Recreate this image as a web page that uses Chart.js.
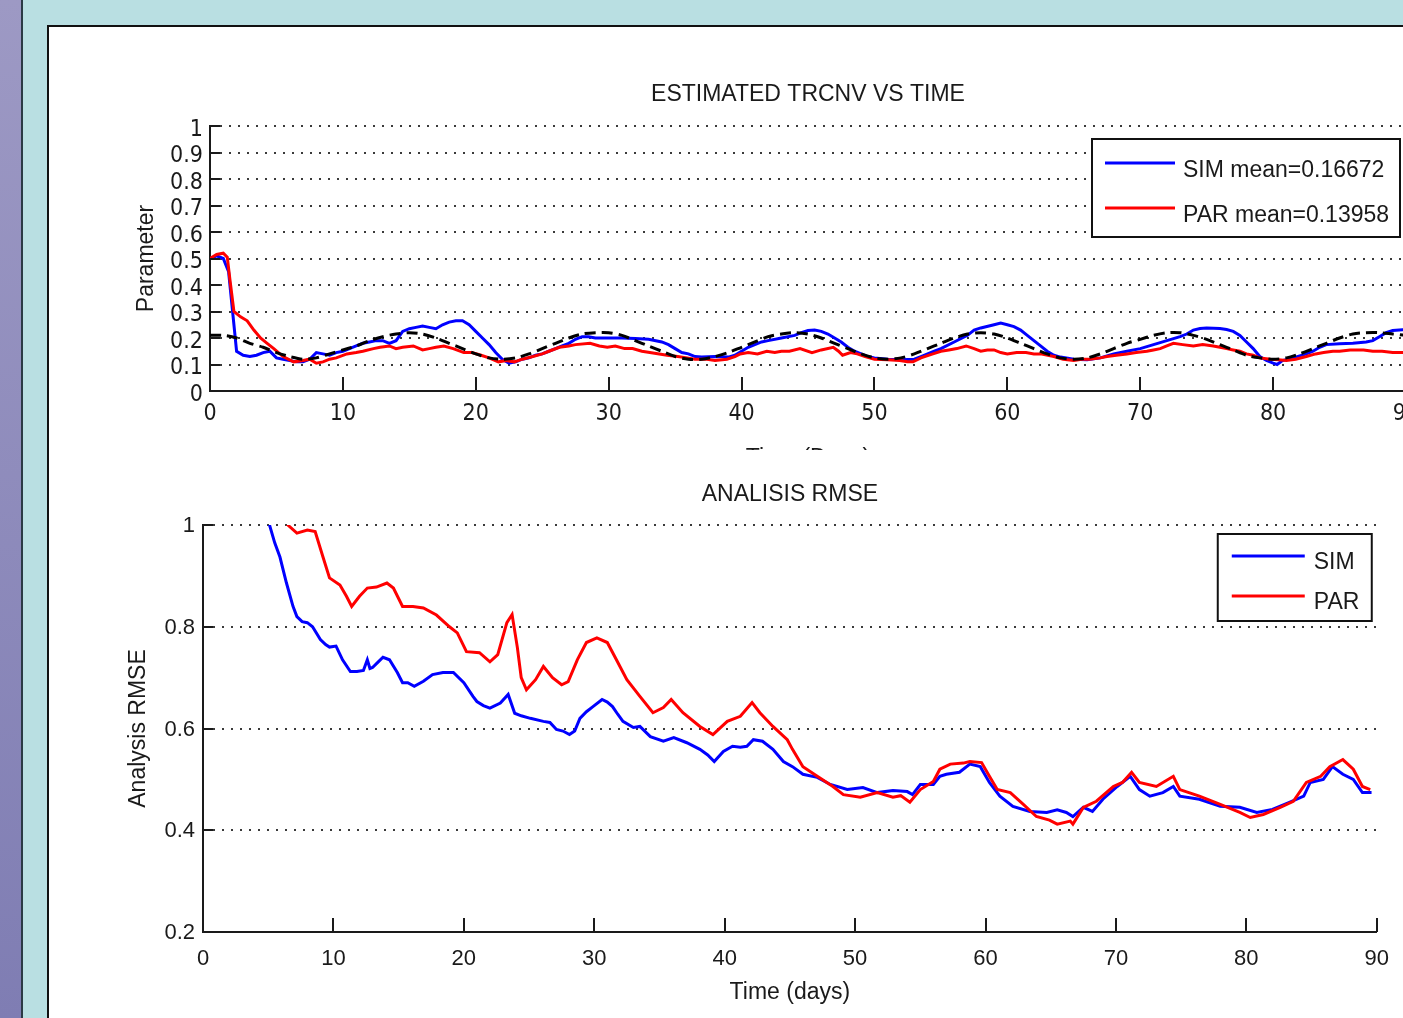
<!DOCTYPE html>
<html><head><meta charset="utf-8">
<script src="https://cdn.jsdelivr.net/npm/chart.js@4.4.1/dist/chart.umd.min.js"></script>
<style>
html,body{margin:0;padding:0;width:1403px;height:1018px;overflow:hidden;background:#b9dfe2;}
#strip{position:absolute;left:0;top:0;width:21px;height:1018px;background:linear-gradient(#9d99c4,#7f7db3);}
#stripline{position:absolute;left:21px;top:0;width:2px;height:1018px;background:#2b3a45;}
#panel{position:absolute;left:47px;top:25px;width:1400px;height:1100px;background:#fff;border-left:2px solid #111;border-top:2px solid #111;}
#topwrap{position:absolute;left:49px;top:27px;width:1354px;height:423px;overflow:hidden;}
#botwrap{position:absolute;left:49px;top:450px;width:1354px;height:568px;overflow:hidden;}
canvas{position:absolute;left:0;top:0;}
</style></head>
<body>
<div id="strip"></div><div id="stripline"></div><div id="panel"></div>
<div id="topwrap"><canvas id="c1" width="1400" height="470"></canvas></div>
<div id="botwrap"><canvas id="c2" width="1354" height="568"></canvas></div>
<script>
// ---------- DATA ----------
const xTicks = [0,10,20,30,40,50,60,70,80,90];
const xTickLabels = ['0','10','20','30','40','50','60','70','80','90'];
const topYTicks = [0,0.1,0.2,0.3,0.4,0.5,0.6,0.7,0.8,0.9,1];
const topYTickLabels = ['0','0.1','0.2','0.3','0.4','0.5','0.6','0.7','0.8','0.9','1'];
const botYTicks = [0.2,0.4,0.6,0.8,1];
const botYTickLabels = ['0.2','0.4','0.6','0.8','1'];

const topTitle = 'ESTIMATED TRCNV VS TIME';
const botTitle = 'ANALISIS RMSE';
const topYTitle = 'Parameter';
const botYTitle = 'Analysis RMSE';
const topXTitle = 'Time (Days)';
const botXTitle = 'Time (days)';
const topLabels = ['SIM mean=0.16672','PAR mean=0.13958','TRUE'];
const botLabels = ['SIM','PAR'];

// top: SIM estimate
const topSimT = [0,0.5,1,1.4,1.7,2,2.5,3,3.5,4,4.5,5,5.5,6,6.5,7,7.5,8,8.5,9,9.5,10,10.5,11,11.5,12,12.5,13,13.5,14,14.5,15,15.5,16,16.5,17,17.5,18,18.5,19,19.5,20,20.5,21,21.5,22,22.5,23,23.5,24,24.5,25,25.5,26,26.5,27,27.5,28,28.5,29,30,31,32,33,34,34.5,35,35.5,36,36.5,37,38,39,39.5,40,40.5,41,41.5,42,43,44,44.5,45,45.5,46,46.5,47,47.5,48,48.5,49,49.5,50,51,52,53,53.5,54,54.5,55,56,57,57.5,58,59,59.5,60,60.5,61,61.5,62,62.5,63,63.5,64,65,66,67,68,69,70,71,72,73,73.5,74,74.5,75,76,76.5,77,77.5,78,78.5,79,79.5,80,80.3,80.7,81.5,82.5,83,83.5,84,85,86,87,87.5,88,88.5,89,90];
const topSimV = [0.50,0.51,0.50,0.45,0.30,0.15,0.135,0.13,0.135,0.145,0.15,0.125,0.12,0.115,0.11,0.11,0.12,0.145,0.14,0.135,0.145,0.15,0.16,0.17,0.18,0.185,0.19,0.19,0.18,0.19,0.225,0.235,0.24,0.245,0.24,0.235,0.25,0.26,0.265,0.265,0.25,0.225,0.20,0.175,0.145,0.12,0.105,0.11,0.12,0.125,0.135,0.14,0.15,0.16,0.17,0.18,0.195,0.205,0.205,0.20,0.20,0.20,0.198,0.195,0.185,0.175,0.16,0.145,0.14,0.13,0.128,0.13,0.128,0.135,0.15,0.165,0.175,0.185,0.19,0.20,0.21,0.22,0.228,0.23,0.225,0.215,0.20,0.185,0.165,0.15,0.14,0.13,0.125,0.12,0.118,0.12,0.13,0.14,0.15,0.16,0.185,0.21,0.23,0.238,0.25,0.256,0.25,0.243,0.23,0.21,0.19,0.17,0.15,0.135,0.128,0.12,0.118,0.125,0.14,0.15,0.16,0.175,0.19,0.205,0.215,0.23,0.236,0.238,0.236,0.232,0.225,0.21,0.185,0.16,0.13,0.115,0.105,0.10,0.115,0.125,0.14,0.15,0.165,0.175,0.178,0.18,0.185,0.19,0.205,0.22,0.228,0.232];

// top: PAR estimate
const topParT = [0,0.5,1,1.3,1.5,1.8,2.3,2.8,3.3,3.8,4.3,4.8,5.5,6.3,7,7.5,8,8.5,9,9.5,10.3,11,11.5,12.3,12.8,13.5,14,14.5,15.3,16,16.5,17,17.6,18.3,19.1,19.7,20.4,21,21.7,22.3,22.9,23.5,24.3,25,25.5,26.3,27,27.5,28.6,29.3,29.9,30.5,31.2,31.8,32.5,33.1,34.4,35.2,35.9,36.5,37.4,38,38.9,39.5,39.9,40.5,41.2,41.9,42.5,43,43.6,44.4,45.3,46,46.9,47.3,47.6,48.2,48.7,49.3,50,51,51.9,52.5,52.9,53.5,54.4,55,55.6,56.2,56.9,57.5,58,58.5,59,59.5,60,60.7,61.4,62,62.5,63.5,64.2,65,65.6,66.2,67,67.5,68.2,69,69.7,70.5,71,71.5,72,72.5,73.2,74,74.7,75.5,76,76.5,77,77.5,78,78.5,79,79.8,80.4,81,81.7,82.5,83.2,83.8,84.5,85,85.8,86.8,87.5,88.2,89,90];
const topParV = [0.50,0.515,0.52,0.505,0.42,0.30,0.28,0.265,0.23,0.20,0.18,0.16,0.13,0.11,0.115,0.12,0.105,0.11,0.12,0.125,0.14,0.145,0.15,0.16,0.165,0.17,0.16,0.165,0.17,0.155,0.16,0.165,0.17,0.16,0.145,0.145,0.135,0.125,0.11,0.115,0.11,0.12,0.13,0.14,0.15,0.165,0.17,0.175,0.18,0.17,0.165,0.17,0.16,0.16,0.15,0.145,0.135,0.13,0.125,0.12,0.12,0.115,0.12,0.13,0.14,0.145,0.14,0.15,0.145,0.15,0.15,0.16,0.145,0.155,0.165,0.15,0.135,0.145,0.14,0.13,0.12,0.118,0.115,0.11,0.11,0.125,0.14,0.15,0.155,0.16,0.17,0.16,0.15,0.155,0.155,0.145,0.14,0.145,0.145,0.14,0.14,0.13,0.12,0.115,0.12,0.12,0.125,0.13,0.135,0.14,0.145,0.15,0.155,0.16,0.17,0.18,0.175,0.17,0.175,0.17,0.165,0.16,0.155,0.15,0.14,0.135,0.125,0.12,0.118,0.115,0.12,0.13,0.14,0.145,0.15,0.15,0.155,0.155,0.15,0.15,0.145,0.145];

// top: true parameter (dashed black), one value per day
const topTrueT = [0,1,2,3,4,5,6,7,8,9,10,11,12,13,14,15,16,17,18,19,20,21,22,23,24,25,26,27,28,29,30,31,32,33,34,35,36,37,38,39,40,41,42,43,44,45,46,47,48,49,50,51,52,53,54,55,56,57,58,59,60,61,62,63,64,65,66,67,68,69,70,71,72,73,74,75,76,77,78,79,80,81,82,83,84,85,86,87,88,89,90];
const topTrueV = [0.21,0.21,0.20,0.18,0.165,0.145,0.13,0.12,0.125,0.14,
  0.155,0.17,0.19,0.205,0.215,0.22,0.215,0.20,0.18,0.16,
  0.14,0.125,0.12,0.125,0.14,0.16,0.18,0.20,0.215,0.22,
  0.22,0.21,0.19,0.17,0.15,0.13,0.12,0.12,0.13,0.145,
  0.165,0.185,0.205,0.215,0.22,0.215,0.20,0.18,0.16,0.14,
  0.125,0.12,0.125,0.14,0.16,0.18,0.20,0.215,0.22,0.215,
  0.20,0.18,0.16,0.14,0.125,0.12,0.125,0.14,0.16,0.18,
  0.195,0.21,0.22,0.22,0.21,0.195,0.175,0.155,0.135,0.125,
  0.12,0.125,0.14,0.16,0.18,0.20,0.215,0.22,0.22,0.215,
  0.21];

// bottom: SIM analysis RMSE
const botSimT = [4.8,5.1,5.5,5.9,6.4,6.9,7.2,7.6,8.0,8.4,9.0,9.4,9.7,10.2,10.7,11.3,11.8,12.3,12.6,12.8,13.0,13.4,13.8,14.3,14.9,15.3,15.7,16.2,16.9,17.6,18.4,19.2,20.0,20.7,21.0,21.5,22.0,22.8,23.4,23.9,24.4,25.1,26.1,26.6,27.1,27.6,28.1,28.5,28.9,29.4,29.9,30.6,31.0,31.4,31.8,32.2,33.0,33.5,34.3,35.3,36.1,37.1,38.1,38.7,39.2,39.9,40.6,41.2,41.7,42.2,42.9,43.7,44.5,45.2,46.0,47.1,48.1,49.4,50.6,51.7,52.9,54.0,54.4,55.0,56.0,56.5,57.0,58.0,58.8,59.6,60.3,61.1,62.1,63.4,64.7,65.5,66.2,66.7,67.5,68.2,69.0,70.1,71.1,71.8,72.6,73.6,74.4,74.9,76.4,78.0,79.5,80.8,82.0,83.3,84.4,84.9,85.9,86.6,87.4,88.2,88.9,89.6];
const botSimV = [1.05,1.0,0.965,0.937,0.886,0.84,0.82,0.81,0.808,0.80,0.775,0.765,0.76,0.762,0.735,0.712,0.712,0.714,0.735,0.718,0.72,0.73,0.74,0.735,0.71,0.69,0.69,0.683,0.693,0.706,0.71,0.71,0.69,0.663,0.653,0.645,0.64,0.65,0.667,0.63,0.625,0.62,0.614,0.612,0.598,0.595,0.588,0.595,0.62,0.633,0.643,0.657,0.652,0.643,0.628,0.614,0.602,0.604,0.584,0.575,0.582,0.572,0.559,0.548,0.535,0.555,0.565,0.563,0.565,0.578,0.575,0.559,0.535,0.525,0.51,0.504,0.49,0.48,0.484,0.474,0.478,0.476,0.47,0.49,0.49,0.506,0.51,0.514,0.53,0.525,0.494,0.467,0.447,0.437,0.435,0.44,0.435,0.427,0.445,0.437,0.461,0.486,0.506,0.48,0.467,0.474,0.486,0.467,0.461,0.447,0.445,0.435,0.441,0.455,0.467,0.494,0.50,0.525,0.51,0.50,0.474,0.474];

// bottom: PAR analysis RMSE
const botParT = [6.1,6.5,7.2,8.0,8.6,9.2,9.7,10.5,11.0,11.4,12.0,12.6,13.3,14.1,14.6,15.3,16.1,16.9,17.9,18.9,19.5,20.2,21.2,22.0,22.6,23.3,23.7,24.1,24.4,24.8,25.5,26.1,26.8,27.5,28.0,28.7,29.4,30.2,31.0,31.7,32.5,33.5,34.5,35.3,35.9,36.8,38.1,39.1,40.2,41.2,42.1,42.7,43.7,44.8,45.2,46.0,47.1,48.3,49.1,50.4,51.7,52.9,53.5,54.2,55.0,56.0,56.5,57.3,58.3,58.8,59.7,60.3,60.9,61.9,62.9,63.9,64.9,65.5,66.5,66.7,67.5,68.5,69.8,70.5,71.2,71.8,73.1,74.4,74.9,76.4,78.0,79.5,80.3,81.3,82.6,83.6,84.6,85.7,86.4,87.4,88.2,88.9,89.5];
const botParV = [1.03,1.0,0.984,0.99,0.987,0.937,0.896,0.882,0.86,0.84,0.86,0.876,0.878,0.886,0.876,0.84,0.84,0.837,0.823,0.80,0.788,0.751,0.749,0.731,0.745,0.808,0.824,0.76,0.70,0.676,0.696,0.722,0.70,0.686,0.692,0.735,0.769,0.778,0.769,0.735,0.696,0.663,0.631,0.641,0.657,0.631,0.604,0.588,0.614,0.624,0.651,0.631,0.604,0.578,0.559,0.525,0.506,0.486,0.47,0.465,0.474,0.465,0.468,0.455,0.48,0.496,0.52,0.53,0.532,0.535,0.533,0.506,0.48,0.474,0.451,0.427,0.42,0.412,0.418,0.412,0.445,0.457,0.486,0.494,0.514,0.494,0.486,0.506,0.48,0.467,0.451,0.435,0.425,0.431,0.445,0.457,0.494,0.506,0.525,0.539,0.52,0.486,0.48];

// ---------- helpers ----------
const pts = (ts, vs) => ts.map((t, i) => ({x: t, y: vs[i]}));
const TXT = '#1a1a1a';
const REG = "'Liberation Sans', Arial, sans-serif";
const NAR = "'Liberation Sans Narrow', 'DejaVu Sans Condensed', 'Liberation Sans', sans-serif";

const inwardTicks = {
  id: 'inwardTicks',
  afterDatasetsDraw(chart, args, o) {
    const {ctx, chartArea: a, scales: {x, y}} = chart;
    ctx.save();
    ctx.strokeStyle = o.color; ctx.lineWidth = o.width;
    ctx.beginPath();
    x.ticks.forEach(t => { const px = Math.round(x.getPixelForValue(t.value)); ctx.moveTo(px, a.bottom); ctx.lineTo(px, a.bottom - o.xLen); });
    y.ticks.forEach(t => { const py = Math.round(y.getPixelForValue(t.value)); ctx.moveTo(a.left, py); ctx.lineTo(a.left + o.yLen, py); });
    ctx.stroke();
    ctx.restore();
  }
};

const boxLegend = {
  id: 'boxLegend',
  afterDraw(chart, args, o) {
    const {ctx, chartArea: a} = chart;
    const x0 = a.right - o.right - o.w, y0 = a.top + o.top;
    ctx.save();
    ctx.fillStyle = '#fff'; ctx.fillRect(x0, y0, o.w, o.h);
    ctx.strokeStyle = '#111'; ctx.lineWidth = 2; ctx.strokeRect(x0, y0, o.w, o.h);
    ctx.font = o.font; ctx.textBaseline = 'middle'; ctx.textAlign = 'left';
    o.items.forEach((idx, k) => {
      const ds = chart.data.datasets[idx];
      const yy = y0 + o.rows[k];
      ctx.strokeStyle = ds.borderColor; ctx.lineWidth = 3;
      ctx.beginPath(); ctx.moveTo(x0 + o.l0, yy); ctx.lineTo(x0 + o.l1, yy); ctx.stroke();
      ctx.fillStyle = TXT;
      ctx.fillText(ds.label, x0 + o.tx, yy + o.dy);
    });
    ctx.restore();
  }
};

function axisCfg(o) {
  return {
    x: {
      type: 'linear', min: 0, max: 90,
      afterBuildTicks: s => { s.ticks = xTicks.map(v => ({value: v})); },
      afterFit: s => { s.height = o.xH; },
      grid: {display: false, drawTicks: false},
      border: {display: true, color: '#1a1a1a', width: 2},
      ticks: {autoSkip: false, maxRotation: 0, padding: o.xPad, color: TXT,
        font: {family: o.tickFam, size: o.tickSize, lineHeight: 1.2},
        callback: (v, i) => xTickLabels[i]},
      title: {display: true, text: o.xTitle, color: TXT, font: {family: REG, size: 23, lineHeight: 1.2}, padding: {top: 0, bottom: o.xTitlePad}}
    },
    y: {
      type: 'linear', min: o.yMin, max: 1,
      afterBuildTicks: s => { s.ticks = o.yTicks.map(v => ({value: v})); },
      afterFit: s => { s.width = o.yW; },
      grid: {display: true, drawTicks: false, color: '#3a3a3a', lineWidth: 2},
      border: {display: true, color: '#1a1a1a', width: 2, dash: [2, 7]},
      ticks: {autoSkip: false, padding: o.yPad, labelOffset: o.yLabelOffset, color: TXT,
        font: {family: o.tickFam, size: o.tickSize, lineHeight: 1.0},
        callback: (v, i) => o.yLabels[i]},
      title: {display: true, text: o.yTitle, color: TXT, font: {family: REG, size: 23, lineHeight: 1.2}, padding: {top: o.yTitlePad, bottom: 0}}
    }
  };
}

const common = {responsive: false, animation: false, devicePixelRatio: 1, events: []};

// ---------- top chart ----------
new Chart(document.getElementById('c1'), {
  type: 'line',
  data: {datasets: [
    {label: topLabels[0], data: pts(topSimT, topSimV), borderColor: '#0000ff', borderWidth: 3, pointRadius: 0, tension: 0, order: 2},
    {label: topLabels[1], data: pts(topParT, topParV), borderColor: '#ff0000', borderWidth: 3, pointRadius: 0, tension: 0, order: 1},
    {label: topLabels[2], data: pts(topTrueT, topTrueV), borderColor: '#000000', borderWidth: 3, borderDash: [11, 6], pointRadius: 0, tension: 0.3, order: 0}
  ]},
  options: Object.assign({}, common, {
    layout: {padding: {left: 0, top: 0, right: 43, bottom: 0}},
    scales: axisCfg({xH: 106, xPad: 9, tickFam: NAR, tickSize: 23, xTitle: topXTitle, xTitlePad: 24.2,
      yMin: 0, yTicks: topYTicks, yLabels: topYTickLabels, yW: 161, yPad: 7, yLabelOffset: 4, yTitle: topYTitle, yTitlePad: 84.2}),
    plugins: {
      legend: {display: false}, tooltip: {enabled: false},
      title: {display: true, text: topTitle, fullSize: false, color: TXT, font: {family: REG, size: 23, weight: 'normal', lineHeight: 1.2}, padding: {top: 54.2, bottom: 17.2}},
      inwardTicks: {color: '#1a1a1a', width: 2, xLen: 14, yLen: 10},
      boxLegend: {right: 6, top: 13, w: 308, h: 98, rows: [24, 69], l0: 13, l1: 83, tx: 91, dy: 8, items: [0, 1], font: "23px " + REG}
    }
  }),
  plugins: [inwardTicks, boxLegend]
});

// ---------- bottom chart ----------
new Chart(document.getElementById('c2'), {
  type: 'line',
  data: {datasets: [
    {label: botLabels[0], data: pts(botSimT, botSimV), borderColor: '#0000ff', borderWidth: 3, pointRadius: 0, tension: 0, order: 2},
    {label: botLabels[1], data: pts(botParT, botParV), borderColor: '#ff0000', borderWidth: 3, pointRadius: 0, tension: 0, order: 1}
  ]},
  options: Object.assign({}, common, {
    layout: {padding: {left: 0, top: 0, right: 26, bottom: 0}},
    scales: axisCfg({xH: 86, xPad: 14, tickFam: REG, tickSize: 22, xTitle: botXTitle, xTitlePad: 11.2,
      yMin: 0.2, yTicks: botYTicks, yLabels: botYTickLabels, yW: 154, yPad: 8, yLabelOffset: 1, yTitle: botYTitle, yTitlePad: 76.2}),
    plugins: {
      legend: {display: false}, tooltip: {enabled: false},
      title: {display: true, text: botTitle, fullSize: false, color: TXT, font: {family: REG, size: 23, weight: 'normal', lineHeight: 1.2}, padding: {top: 31.2, bottom: 16.2}},
      inwardTicks: {color: '#1a1a1a', width: 2, xLen: 14, yLen: 10},
      boxLegend: {right: 5, top: 9, w: 154, h: 87, rows: [22, 62], l0: 14, l1: 87, tx: 96, dy: 7, items: [0, 1], font: "23px " + REG}
    }
  }),
  plugins: [inwardTicks, boxLegend]
});
</script>
</body></html>
